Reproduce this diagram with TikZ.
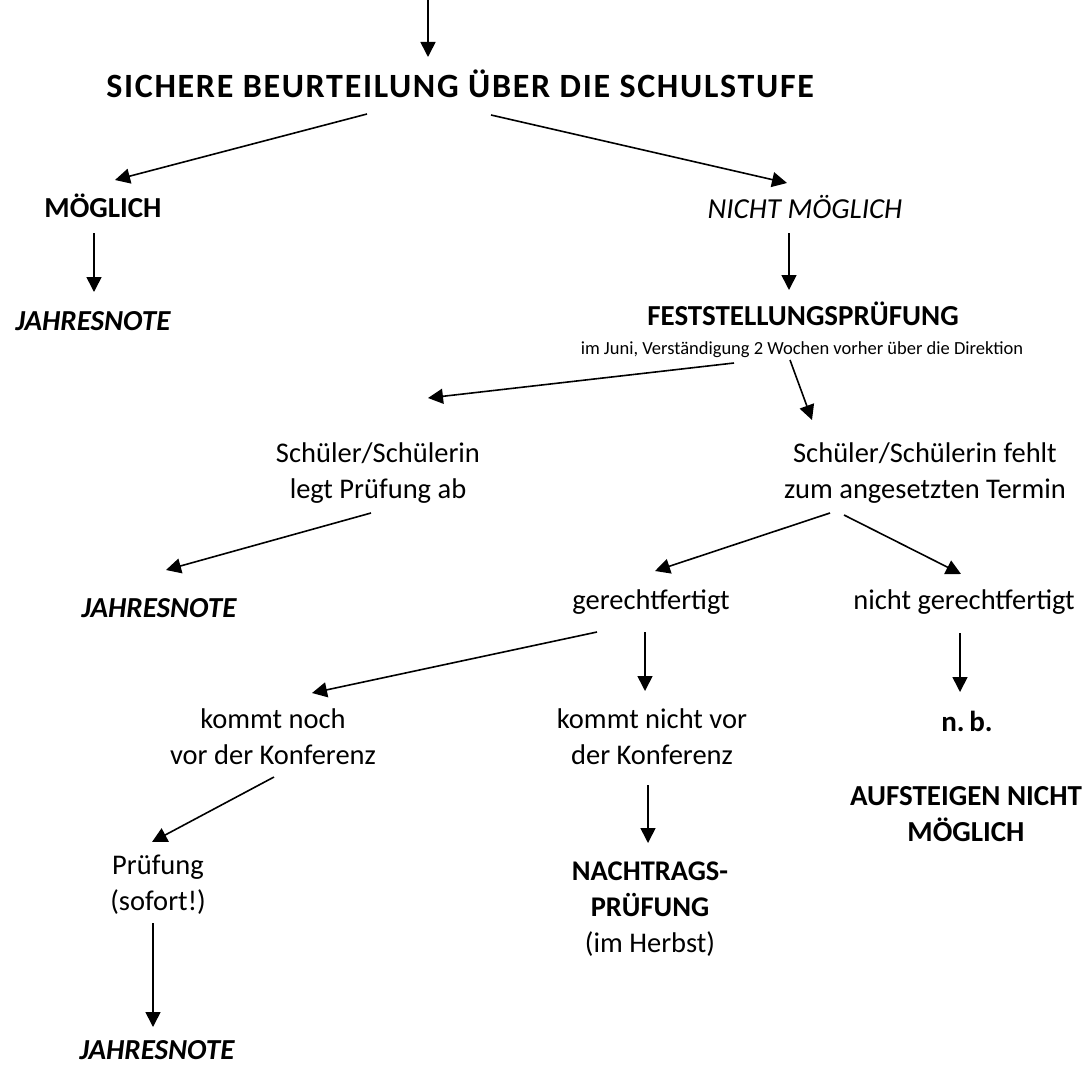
\documentclass[tikz,border=0pt]{standalone}
\usepackage{fontspec}
\setmainfont{Carlito}
\newfontfamily\titlefont[LetterSpace=5]{Carlito}
\usetikzlibrary{arrows.meta,calc}
\begin{document}
\begin{tikzpicture}[x=1pt,y=-1pt,
  txt/.style={anchor=base,align=center,inner sep=0pt,font=\fontsize{28.5}{36}\selectfont},
  bld/.style={txt,font=\fontsize{29}{36}\selectfont\bfseries},
  bit/.style={txt,font=\fontsize{29}{36}\selectfont\bfseries\itshape},
  arr/.style={line width=1.6pt,-{Triangle[length=15pt,width=15pt]}}]
\useasboundingbox (0,0) rectangle (1086,1065);
\coordinate (top) at (428,0);
\node[anchor=base,inner sep=0pt,font={\titlefont\fontsize{34}{40}\selectfont\bfseries}] (title) at (460,97) {SICHERE BEURTEILUNG ÜBER DIE SCHULSTUFE};
\node[bld] (moeg) at (103,217) {MÖGLICH};
\node[txt,font=\fontsize{29}{36}\selectfont\itshape] (nmoeg) at (805,218) {NICHT MÖGLICH};
\node[bit] (jn1) at (93,330) {JAHRESNOTE};
\node[bld] (fest) at (803,325) {FESTSTELLUNGSPRÜFUNG};
\node[txt,font=\fontsize{18.5}{22}\selectfont] (small) at (802,354) {im Juni, Verständigung 2 Wochen vorher über die Direktion};
% multi-line nodes: base = baseline of last line
\node[txt] (schL) at (378,498) {Schüler/Schülerin\\legt Prüfung ab};
\node[txt] (schR) at (925,498) {Schüler/Schülerin fehlt\\zum angesetzten Termin};
\node[bit] (jn2) at (159,617) {JAHRESNOTE};
\node[txt] (ger) at (651,609) {gerechtfertigt};
\node[txt] (nger) at (964,609) {nicht gerechtfertigt};
\node[txt] (kn) at (273,764) {kommt noch\\vor der Konferenz};
\node[txt] (knv) at (652,764) {kommt nicht vor\\der Konferenz};
\node[bld] (nb) at (967,731) {n.\,b.};
\node[bld] (auf) at (966,841) {AUFSTEIGEN NICHT\\MÖGLICH};
\node[txt] (pr) at (158,910) {Prüfung\\(sofort!)};
\node[txt] (nach) at (650,952) {\textbf{NACHTRAGS-}\\\textbf{PRÜFUNG}\\(im Herbst)};
\node[bit] (jn3) at (157,1059) {JAHRESNOTE};
\draw[arr] (top) -- ($(title.base)+(-32,-40)$);
\draw[arr] ($(title.base)+(-93,17)$) -- ($(moeg.base)+(12,-37)$);
\draw[arr] ($(title.base)+(31,18)$) -- ($(nmoeg.base)+(-18,-35)$);
\draw[arr] ($(moeg.base)+(-9,16)$) -- ($(jn1.base)+(1,-38)$);
\draw[arr] ($(nmoeg.base)+(-16,15)$) -- ($(fest.base)+(-14,-35)$);
\draw[arr] ($(small.base)+(-68,9)$) -- ($(schL.base)+(50,-100)$);
\draw[arr] ($(small.base)+(-12,6)$) -- ($(schR.base)+(-113,-78)$);
\draw[arr] ($(schL.base)+(-7,15)$) -- ($(jn2.base)+(7,-47)$);
\draw[arr] ($(schR.base)+(-95,15)$) -- ($(ger.base)+(4,-38)$);
\draw[arr] ($(schR.base)+(-81,17)$) -- ($(nger.base)+(-3,-35)$);
\draw[arr] ($(ger.base)+(-54,23)$) -- ($(kn.base)+(39,-71)$);
\draw[arr] ($(ger.base)+(-6,23)$) -- ($(knv.base)+(-7,-73)$);
\draw[arr] ($(nger.base)+(-4,24)$) -- ($(nb.base)+(-7,-39)$);
\draw[arr] ($(kn.base)+(1,13)$) -- ($(pr.base)+(-6,-68)$);
\draw[arr] ($(knv.base)+(-4,21)$) -- ($(nach.base)+(-2,-109)$);
\draw[arr] ($(pr.base)+(-5,13)$) -- ($(jn3.base)+(-4,-32)$);
\end{tikzpicture}
\end{document}
